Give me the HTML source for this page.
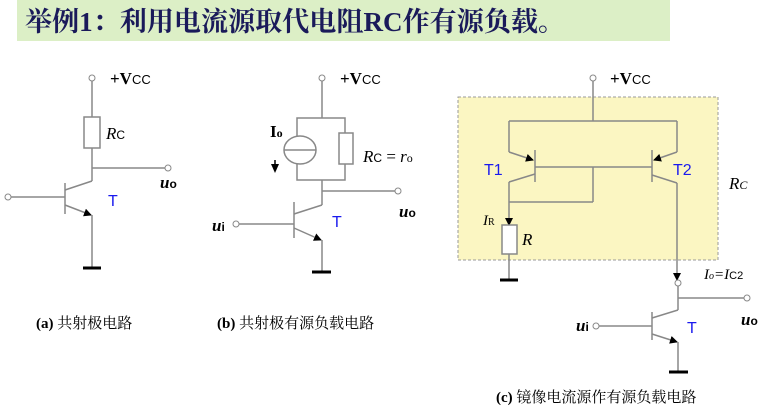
<!DOCTYPE html><html><head><style>body{margin:0;background:#fff}svg{display:block}</style></head><body>
<svg width="766" height="420" viewBox="0 0 766 420" xmlns="http://www.w3.org/2000/svg">
<defs><marker id="ar" markerWidth="8" markerHeight="8" refX="7" refY="4" orient="auto" markerUnits="userSpaceOnUse"><path d="M0,0 L8,4 L0,8 z" fill="#000"/></marker></defs>
<rect x="17" y="0" width="653" height="41" fill="#dcefc6"/>
<text x="25" y="31" font-family="Liberation Serif,Noto Serif CJK SC,serif" font-weight="bold" font-size="27" fill="#1a1a5a" textLength="540" lengthAdjust="spacingAndGlyphs">举例1：利用电流源取代电阻RC作有源负载。</text>
<g stroke="#888" stroke-width="1.5" fill="none">
<line x1="92" y1="81" x2="92" y2="117"/><rect x="84" y="117" width="16" height="31" fill="#fff"/>
<line x1="92" y1="148" x2="92" y2="181"/><line x1="92" y1="168" x2="165" y2="168"/>
<line x1="92" y1="181" x2="65" y2="190"/><line x1="65" y1="183" x2="65" y2="214"/>
<line x1="11" y1="197" x2="65" y2="197"/>
<line x1="65" y1="205" x2="91" y2="215" marker-end="url(#ar)"/><line x1="92" y1="215" x2="92" y2="268"/>
<line x1="322" y1="81" x2="322" y2="118"/><rect x="297" y="118" width="48" height="62"/>
<ellipse cx="300" cy="150" rx="16" ry="14" fill="#fff"/><line x1="284" y1="150" x2="316" y2="150"/>
<rect x="339" y="133" width="14" height="31" fill="#fff"/>
<line x1="322" y1="180" x2="322" y2="205"/><line x1="322" y1="191" x2="395" y2="191"/>
<line x1="322" y1="205" x2="294" y2="214"/><line x1="294" y1="202" x2="294" y2="238"/>
<line x1="239" y1="224" x2="294" y2="224"/>
<line x1="294" y1="228" x2="321" y2="240" marker-end="url(#ar)"/><line x1="322" y1="240" x2="322" y2="272"/>
<rect x="458" y="97" width="260" height="163" fill="#fbf6c2" stroke="#999" stroke-dasharray="3,2" stroke-width="1"/>
<line x1="593" y1="81" x2="593" y2="121"/><line x1="509" y1="121" x2="677" y2="121"/>
<line x1="509" y1="121" x2="509" y2="152"/><line x1="509" y1="152" x2="533" y2="160" marker-end="url(#ar)"/>
<line x1="535" y1="150" x2="535" y2="182"/><line x1="535" y1="167" x2="652" y2="167"/>
<line x1="535" y1="174" x2="509" y2="182"/><line x1="509" y1="182" x2="509" y2="225" marker-end="url(#ar)"/>
<line x1="509" y1="202" x2="593" y2="202"/><line x1="593" y1="202" x2="593" y2="167"/>
<rect x="502" y="225" width="15" height="29" fill="#fff"/><line x1="509" y1="254" x2="509" y2="280"/>
<line x1="677" y1="121" x2="677" y2="152"/><line x1="677" y1="152" x2="654" y2="160" marker-end="url(#ar)"/>
<line x1="652" y1="150" x2="652" y2="182"/><line x1="652" y1="175" x2="677" y2="183"/>
<line x1="677" y1="183" x2="677" y2="280" marker-end="url(#ar)"/>
<line x1="678" y1="286" x2="678" y2="310"/><line x1="678" y1="298" x2="744" y2="298"/>
<line x1="678" y1="310" x2="652" y2="318"/><line x1="652" y1="312" x2="652" y2="340"/>
<line x1="599" y1="326" x2="652" y2="326"/>
<line x1="652" y1="334" x2="677" y2="342" marker-end="url(#ar)"/><line x1="678" y1="342" x2="678" y2="372"/>
</g>
<g stroke="#888" stroke-width="1" fill="#fff">
<circle cx="92" cy="78" r="3"/><circle cx="168" cy="168" r="3"/><circle cx="8" cy="197" r="3"/>
<circle cx="322" cy="78" r="3"/><circle cx="398" cy="191" r="3"/><circle cx="236" cy="224" r="3"/>
<circle cx="593" cy="78" r="3"/><circle cx="678" cy="283" r="3"/><circle cx="747" cy="298" r="3"/><circle cx="596" cy="326" r="3"/>
</g>
<g stroke="#000" stroke-width="3">
<line x1="83" y1="268" x2="101" y2="268"/><line x1="312" y1="272" x2="331" y2="272"/>
<line x1="500" y1="280" x2="518" y2="280"/><line x1="669" y1="372" x2="688" y2="372"/>
<line x1="275" y1="160" x2="275" y2="166" stroke-width="1.5"/>
</g>
<path d="M271,164 L279,164 L275,173 z" fill="#000"/>
<g font-family="Liberation Serif,serif" font-size="17" fill="#000">
<text x="110" y="84" font-weight="bold">+V<tspan font-family="Liberation Sans" font-size="13" font-weight="normal">CC</tspan></text>
<text x="340" y="84" font-weight="bold">+V<tspan font-family="Liberation Sans" font-size="13" font-weight="normal">CC</tspan></text>
<text x="610" y="84" font-weight="bold">+V<tspan font-family="Liberation Sans" font-size="13" font-weight="normal">CC</tspan></text>
<text x="106" y="139" font-style="italic">R<tspan font-style="normal" font-family="Liberation Sans" font-size="12">C</tspan></text>
<text x="160" y="188" font-style="italic" font-weight="bold">u<tspan font-style="normal" font-family="Liberation Sans" font-size="12">o</tspan></text>
<text x="270" y="137" font-weight="bold">I<tspan font-size="12">o</tspan></text>
<text x="363" y="162" font-style="italic">R<tspan font-style="normal" font-family="Liberation Sans" font-size="12">C</tspan><tspan font-style="normal"> = </tspan>r<tspan font-style="normal" font-size="12">o</tspan></text>
<text x="399" y="217" font-style="italic" font-weight="bold">u<tspan font-style="normal" font-family="Liberation Sans" font-size="12">o</tspan></text>
<text x="212" y="231" font-style="italic" font-weight="bold">u<tspan font-style="normal" font-family="Liberation Sans" font-size="12">i</tspan></text>
<text x="729" y="189" font-style="italic">R<tspan font-size="12">C</tspan></text>
<text x="483" y="225" font-style="italic" font-size="15">I<tspan font-style="normal" font-size="10">R</tspan></text>
<text x="522" y="245" font-style="italic">R</text>
<text x="704" y="279" font-style="italic" font-size="15">I<tspan font-size="10">o</tspan>=I<tspan font-style="normal" font-family="Liberation Sans" font-size="11">C2</tspan></text>
<text x="576" y="331" font-style="italic" font-weight="bold">u<tspan font-style="normal" font-family="Liberation Sans" font-size="12">i</tspan></text>
<text x="741" y="325" font-style="italic" font-weight="bold">u<tspan font-style="normal" font-family="Liberation Sans" font-size="12">o</tspan></text>
</g>
<g font-family="Liberation Sans,sans-serif" font-size="16" fill="#1a1aee">
<text x="108" y="206">T</text><text x="332" y="227">T</text>
<text x="484" y="175">T1</text><text x="673" y="175">T2</text><text x="687" y="333">T</text>
</g>
<g font-family="Liberation Serif,Noto Serif CJK SC,serif" font-size="15" fill="#000">
<text x="36" y="328"><tspan font-weight="bold">(a)</tspan> 共射极电路</text>
<text x="217" y="328"><tspan font-weight="bold">(b)</tspan> 共射极有源负载电路</text>
<text x="496" y="402"><tspan font-weight="bold">(c)</tspan> 镜像电流源作有源负载电路</text>
</g>
</svg>
</body></html>
